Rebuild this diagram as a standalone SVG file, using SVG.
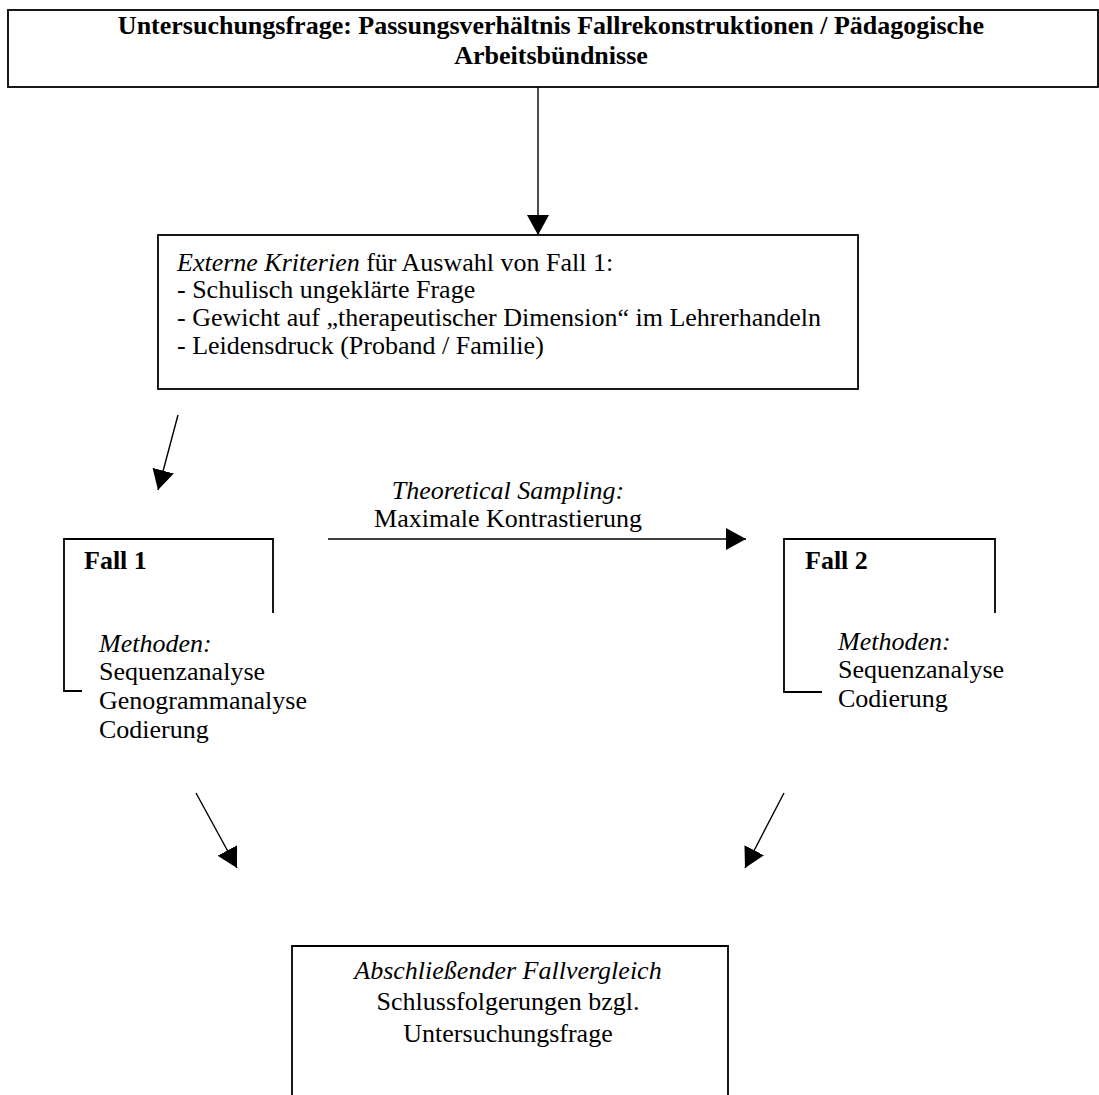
<svg xmlns="http://www.w3.org/2000/svg" width="1099" height="1095" viewBox="0 0 1099 1095">
<style>
text{font-family:"Liberation Serif","Times New Roman",serif;font-size:26px;fill:#000}
.b{font-weight:bold}
.i{font-style:italic}
.c{text-anchor:middle}
.box{fill:none;stroke:#000;stroke-width:1.8}
.con{fill:none;stroke:#000;stroke-width:1.4}
</style>
<defs>
<marker id="ah" markerUnits="userSpaceOnUse" markerWidth="21" markerHeight="22" refX="20" refY="11" orient="auto">
<path d="M0,0 L20,11 L0,22 z" fill="#000"/>
</marker>
</defs>
<rect width="1099" height="1095" fill="#fff"/>
<g id="frage">
<rect class="box" x="8" y="10" width="1090" height="77"/>
<text class="b c" x="551" y="34">Untersuchungsfrage: Passungsverhältnis Fallrekonstruktionen / Pädagogische</text>
<text class="b c" x="551" y="64">Arbeitsbündnisse</text>
</g>
<g id="kriterien">
<rect class="box" x="158" y="235" width="700" height="154"/>
<text x="177" y="271"><tspan class="i">Externe Kriterien</tspan> für Auswahl von Fall 1:</text>
<text x="177" y="298">- Schulisch ungeklärte Frage</text>
<text x="177" y="326">- Gewicht auf „therapeutischer Dimension“ im Lehrerhandeln</text>
<text x="177" y="354">- Leidensdruck (Proband / Familie)</text>
</g>
<g id="fall1">
<path class="box" d="M273,613 V539 H64 V691 H82"/>
<text class="b" x="84" y="569">Fall 1</text>
<text class="i" x="99" y="652">Methoden:</text>
<text x="99" y="680">Sequenzanalyse</text>
<text x="99" y="709">Genogrammanalyse</text>
<text x="99" y="738">Codierung</text>
</g>
<g id="fall2">
<path class="box" d="M995,613 V539 H784 V692 H822"/>
<text class="b" x="805" y="569">Fall 2</text>
<text class="i" x="838" y="650">Methoden:</text>
<text x="838" y="678">Sequenzanalyse</text>
<text x="838" y="707">Codierung</text>
</g>
<g id="sampling-label">
<text class="i c" x="508" y="499">Theoretical Sampling:</text>
<text class="c" x="508" y="527">Maximale Kontrastierung</text>
</g>
<g id="vergleich">
<path class="box" d="M292,1100 V946 H728 V1100"/>
<text class="i c" x="508" y="979">Abschließender Fallvergleich</text>
<text class="c" x="508" y="1010">Schlussfolgerungen bzgl.</text>
<text class="c" x="508" y="1042">Untersuchungsfrage</text>
</g>
<g id="connectors">
<line class="con" x1="538" y1="87" x2="538" y2="235" marker-end="url(#ah)"/>
<line class="con" x1="178" y1="415" x2="158" y2="490" marker-end="url(#ah)"/>
<line class="con" x1="328" y1="539" x2="746" y2="539" marker-end="url(#ah)"/>
<line class="con" x1="196" y1="793" x2="237" y2="868" marker-end="url(#ah)"/>
<line class="con" x1="784" y1="793" x2="745" y2="868" marker-end="url(#ah)"/>
</g>
</svg>
